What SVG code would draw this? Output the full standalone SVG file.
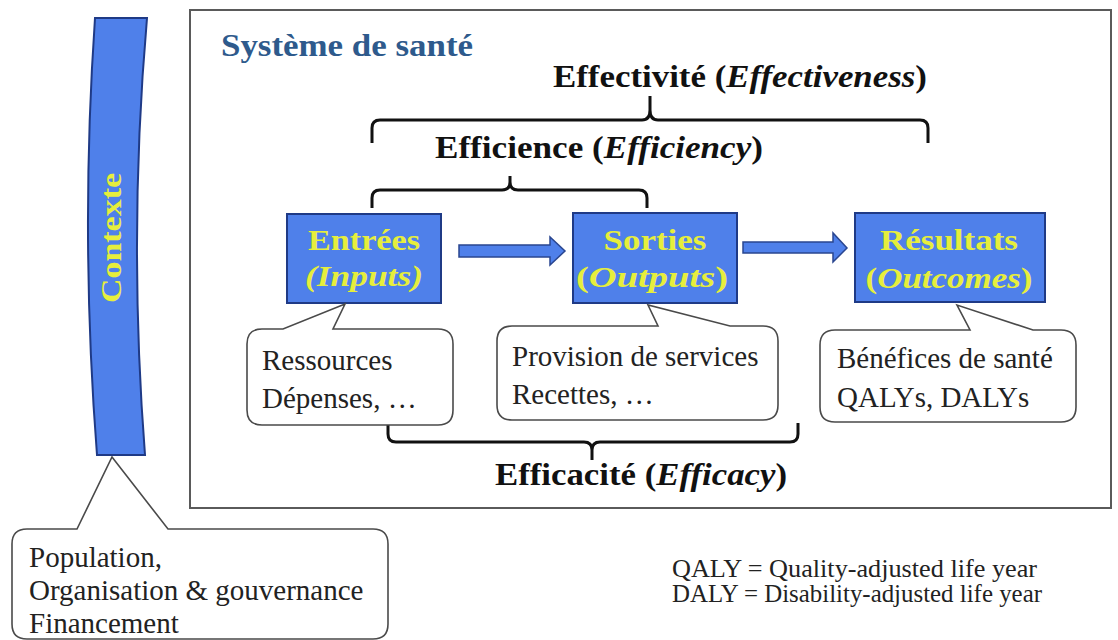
<svg xmlns="http://www.w3.org/2000/svg" width="1118" height="640" viewBox="0 0 1118 640">
<style>
.frame{fill:#fff;stroke:#5a5a5a;stroke-width:2}
.box{fill:#4f80ea;stroke:#1f3a86;stroke-width:2}
.arrow{fill:#4f80ea;stroke:#2a4690;stroke-width:1.5}
.call{fill:#fff;stroke:#4a4a4a;stroke-width:1.6}
.brace{fill:none;stroke:#111;stroke-width:3;stroke-linejoin:round}
.lbl{font-family:"Liberation Serif","Times New Roman",serif;font-weight:bold;fill:#e6ee3c;text-anchor:middle}
.it{font-style:italic}
.head{font-family:"Liberation Serif","Times New Roman",serif;font-weight:bold;fill:#111;font-size:32px;text-anchor:middle}
.txt{font-family:"Liberation Serif","Times New Roman",serif;fill:#222;font-size:29px}
.note{font-family:"Liberation Serif","Times New Roman",serif;fill:#222;font-size:25px}
</style>
<rect x="0" y="0" width="1118" height="640" fill="#fff"/>
<rect id="frame" class="frame" x="190" y="10" width="921" height="498"/>
<text id="title" x="221" y="56" font-family="Liberation Serif, Times New Roman, serif" font-weight="bold" font-size="32" fill="#2e5a8c" textLength="252" lengthAdjust="spacingAndGlyphs">Système de santé</text>

<g id="contexte">
<path class="box" d="M95,18 L147,18 Q128,236 145,455 L97,455 Q80,236 95,18 Z"/>
<text class="lbl" transform="translate(121,238) rotate(-90)" font-size="30" textLength="130" lengthAdjust="spacingAndGlyphs">Contexte</text>
</g>

<g id="contexte-callout">
<path class="call" d="M27,529 L77,529 L112,457 L168,529 L373,529 Q388,529 388,544 L388,624 Q388,639 373,639 L27,639 Q12,639 12,624 L12,544 Q12,529 27,529 Z"/>
<text class="txt" x="29" y="567">Population,</text>
<text class="txt" x="29" y="600">Organisation &amp; gouvernance</text>
<text class="txt" x="29" y="633">Financement</text>
</g>

<g id="connectors">
<path class="arrow" d="M459,245 L550,245 L550,237 L565,251 L550,265 L550,257 L459,257 Z"/>
<path class="arrow" d="M743,242 L833,242 L833,233 L847,248 L833,262 L833,253 L743,253 Z"/>
<path class="brace" d="M372,143 L372,128 Q372,120 380,120 L642,120 Q650,120 650,110 L650,96 M650,110 Q650,120 658,120 L920,120 Q928,120 928,128 L928,143"/>
<path class="brace" d="M372,208 L372,198 Q372,190 380,190 L502,190 Q510,190 510,182 L510,176 M510,182 Q510,190 518,190 L639,190 Q647,190 647,198 L647,208"/>
<path class="brace" d="M388,423 L388,434 Q388,442 396,442 L584,442 Q592,442 592,450 L592,460 M592,450 Q592,442 600,442 L790,442 Q798,442 798,434 L798,423"/>
</g>

<g id="effectivite">
<text class="head" x="740" y="87" textLength="374" lengthAdjust="spacingAndGlyphs">Effectivité (<tspan class="it">Effectiveness</tspan>)</text>
</g>
<g id="efficience">
<text class="head" x="599" y="158" textLength="328" lengthAdjust="spacingAndGlyphs">Efficience (<tspan class="it">Efficiency</tspan>)</text>
</g>
<g id="efficacite">
<text class="head" x="641" y="485" textLength="292" lengthAdjust="spacingAndGlyphs">Efficacité (<tspan class="it">Efficacy</tspan>)</text>
</g>

<g id="entrees">
<rect class="box" x="287" y="214" width="154" height="89"/>
<text class="lbl" x="364" y="250" font-size="30" textLength="112" lengthAdjust="spacingAndGlyphs">Entrées</text>
<text class="lbl it" x="364" y="286" font-size="30" textLength="118" lengthAdjust="spacingAndGlyphs">(Inputs)</text>
</g>
<g id="sorties">
<rect class="box" x="573" y="213" width="164" height="90"/>
<text class="lbl" x="655" y="250" font-size="30" textLength="103" lengthAdjust="spacingAndGlyphs">Sorties</text>
<text class="lbl" x="652" y="287" font-size="30" textLength="152" lengthAdjust="spacingAndGlyphs">(<tspan class="it">Outputs</tspan>)</text>
</g>
<g id="resultats">
<rect class="box" x="855" y="213" width="190" height="89"/>
<text class="lbl" x="949" y="250" font-size="30" textLength="138" lengthAdjust="spacingAndGlyphs">Résultats</text>
<text class="lbl" x="949" y="288" font-size="30" textLength="167" lengthAdjust="spacingAndGlyphs">(<tspan class="it">Outcomes</tspan>)</text>
</g>

<g id="entrees-callout">
<path class="call" d="M262,329 L283,329 L345,304 L333,329 L438,329 Q453,329 453,344 L453,410 Q453,425 438,425 L262,425 Q247,425 247,410 L247,344 Q247,329 262,329 Z"/>
<text class="txt" x="262" y="370">Ressources</text>
<text class="txt" x="262" y="408">Dépenses, …</text>
</g>
<g id="sorties-callout">
<path class="call" d="M512,326 L658,326 L648,305 L730,326 L763,326 Q778,326 778,341 L778,405 Q778,420 763,420 L512,420 Q497,420 497,405 L497,341 Q497,326 512,326 Z"/>
<text class="txt" x="512" y="366">Provision de services</text>
<text class="txt" x="512" y="404">Recettes, …</text>
</g>
<g id="resultats-callout">
<path class="call" d="M835,330 L970,330 L957,305 L1033,330 L1061,330 Q1076,330 1076,345 L1076,407 Q1076,422 1061,422 L835,422 Q820,422 820,407 L820,345 Q820,330 835,330 Z"/>
<text class="txt" x="837" y="368">Bénéfices de santé</text>
<text class="txt" x="837" y="407">QALYs, DALYs</text>
</g>

<g id="legend">
<text class="note" x="672" y="577" textLength="365" lengthAdjust="spacingAndGlyphs">QALY = Quality-adjusted life year</text>
<text class="note" x="672" y="602" textLength="370" lengthAdjust="spacingAndGlyphs">DALY = Disability-adjusted life year</text>
</g>
</svg>
